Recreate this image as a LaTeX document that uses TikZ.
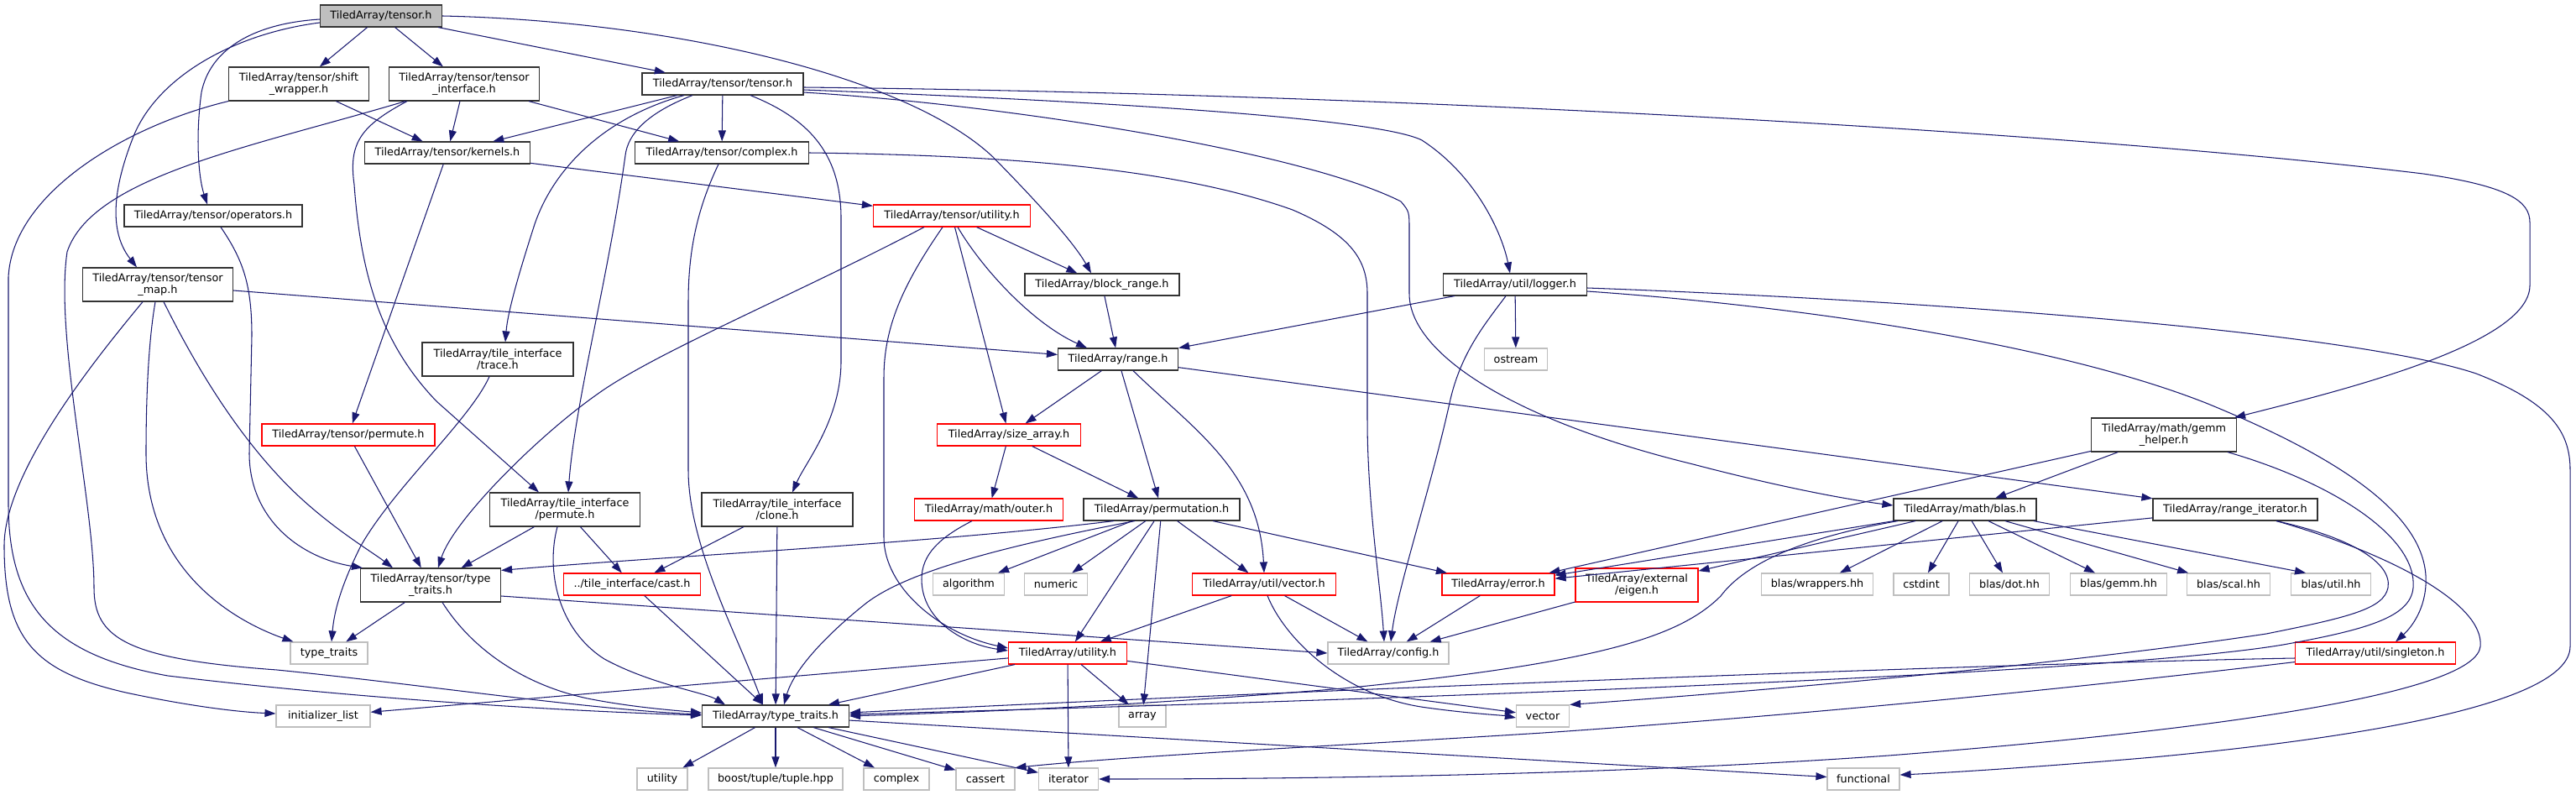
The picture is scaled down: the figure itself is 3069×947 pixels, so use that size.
\documentclass[tikz,border=0pt]{standalone}
\usepackage{fontspec}
\setmainfont{DejaVu Sans}
\usetikzlibrary{arrows.meta}
\definecolor{edgec}{HTML}{191970}
\definecolor{greyb}{HTML}{BFBFBF}
\definecolor{redb}{HTML}{FF0000}
\definecolor{boxb}{HTML}{333333}
\tikzset{
 nd/.style={draw=boxb, line width=1.15pt, fill=white, inner sep=0pt, minimum height=26pt, align=center, font=\fontsize{12.8}{14}\selectfont},
 two/.style={minimum height=40pt},
 sys/.style={draw=greyb},
 trunc/.style={draw=redb},
 edg/.style={draw=edgec, line width=1.05pt, -{Triangle[length=13pt,width=9pt]}},
}
\begin{document}
\begin{tikzpicture}[x=1pt,y=-1pt]
\fill[white] (0,0) rectangle (3069,947);
\useasboundingbox (0,0) rectangle (3069,947);
% nodes
\node[nd,fill=greyb,minimum width=145pt] (root) at (454,19) {TiledArray/tensor.h};
\node[nd,two,minimum width=167pt] (shw) at (356,100) {TiledArray/tensor/shift\\\_wrapper.h};
\node[nd,two,minimum width=179pt] (tif) at (553,100) {TiledArray/tensor/tensor\\\_interface.h};
\node[nd,minimum width=192pt] (tt) at (861,100) {TiledArray/tensor/tensor.h};
\node[nd,minimum width=197pt] (ker) at (533,182) {TiledArray/tensor/kernels.h};
\node[nd,minimum width=207pt] (cpx) at (860,182) {TiledArray/tensor/complex.h};
\node[nd,minimum width=212pt] (ops) at (254,257) {TiledArray/tensor/operators.h};
\node[nd,trunc,minimum width=187pt] (tut) at (1134,257) {TiledArray/tensor/utility.h};
\node[nd,two,minimum width=179pt] (tmap) at (188,339) {TiledArray/tensor/tensor\\\_map.h};
\node[nd,minimum width=184pt] (brg) at (1313,339) {TiledArray/block\_range.h};
\node[nd,minimum width=171pt] (log) at (1805,339) {TiledArray/util/logger.h};
\node[nd,two,minimum width=180pt] (trc) at (593,428) {TiledArray/tile\_interface\\/trace.h};
\node[nd,minimum width=143pt] (rng) at (1332,428) {TiledArray/range.h};
\node[nd,sys,minimum width=75pt] (ost) at (1806,428) {ostream};
\node[nd,trunc,minimum width=206pt] (tperm) at (415,518) {TiledArray/tensor/permute.h};
\node[nd,trunc,minimum width=171pt] (sza) at (1202,518) {TiledArray/size\_array.h};
\node[nd,two,minimum width=173pt] (gemm) at (2578,518) {TiledArray/math/gemm\\\_helper.h};
\node[nd,two,minimum width=179pt] (tip) at (673,607) {TiledArray/tile\_interface\\/permute.h};
\node[nd,two,minimum width=180pt] (cln) at (926,607) {TiledArray/tile\_interface\\/clone.h};
\node[nd,trunc,minimum width=177pt] (out) at (1178,607) {TiledArray/math/outer.h};
\node[nd,minimum width=186pt] (perm) at (1384,607) {TiledArray/permutation.h};
\node[nd,minimum width=170pt] (blas) at (2341,607) {TiledArray/math/blas.h};
\node[nd,minimum width=196pt] (rit) at (2663,607) {TiledArray/range\_iterator.h};
\node[nd,two,minimum width=167pt] (ttr) at (513,697) {TiledArray/tensor/type\\\_traits.h};
\node[nd,trunc,minimum width=163pt] (cast) at (753,696) {../tile\_interface/cast.h};
\node[nd,sys,minimum width=85pt] (alg) at (1154,696) {algorithm};
\node[nd,sys,minimum width=75pt] (num) at (1258,696) {numeric};
\node[nd,trunc,minimum width=171pt] (vec) at (1506,696) {TiledArray/util/vector.h};
\node[nd,trunc,minimum width=134pt] (err) at (1785,696) {TiledArray/error.h};
\node[nd,trunc,two,minimum width=146pt] (eig) at (1950,697) {TiledArray/external\\/eigen.h};
\node[nd,sys,minimum width=133pt] (bwr) at (2165,696) {blas/wrappers.hh};
\node[nd,sys,minimum width=66pt] (cstd) at (2289,696) {cstdint};
\node[nd,sys,minimum width=95pt] (bdot) at (2394,696) {blas/dot.hh};
\node[nd,sys,minimum width=115pt] (bgemm) at (2524,696) {blas/gemm.hh};
\node[nd,sys,minimum width=99pt] (bscal) at (2655,696) {blas/scal.hh};
\node[nd,sys,minimum width=95pt] (butil) at (2777,696) {blas/util.hh};
\node[nd,sys,minimum width=92pt] (stt) at (392,778) {type\_traits};
\node[nd,sys,minimum width=144pt] (cfg) at (1654,778) {TiledArray/config.h};
\node[nd,trunc,minimum width=141pt] (util) at (1272,778) {TiledArray/utility.h};
\node[nd,trunc,minimum width=191pt] (sing) at (2830,778) {TiledArray/util/singleton.h};
\node[nd,sys,minimum width=112pt] (init) at (385,853) {initializer\_list};
\node[nd,minimum width=175pt] (tatt) at (924,853) {TiledArray/type\_traits.h};
\node[nd,sys,minimum width=56pt] (arr) at (1361,853) {array};
\node[nd,sys,minimum width=63pt] (vector) at (1838,853) {vector};
\node[nd,sys,minimum width=60pt] (utl) at (789,928) {utility};
\node[nd,sys,minimum width=160pt] (boost) at (924,928) {boost/tuple/tuple.hpp};
\node[nd,sys,minimum width=78pt] (cplx) at (1068,928) {complex};
\node[nd,sys,minimum width=70pt] (cas) at (1174,928) {cassert};
\node[nd,sys,minimum width=71pt] (iter) at (1273,928) {iterator};
\node[nd,sys,minimum width=86pt] (fun) at (2220,928) {functional};
% root
\draw[edg] (root) -- (shw);
\draw[edg] (root) -- (tif);
\draw[edg] (root) -- (tt);
\draw[edg] ([yshift=-4pt]root.west) .. controls (300,28) and (250,60) .. (240,110) .. controls (233,160) and (236,210) .. ([xshift=-7pt]ops.north);
\draw[edg] ([yshift=-8pt]root.west) .. controls (280,40) and (190,90) .. (160,160) .. controls (140,210) and (125,270) .. ([xshift=-25pt]tmap.north);
\draw[edg] (root.east) .. controls (800,25) and (1080,90) .. (1183,187) .. controls (1240,245) and (1280,290) .. ([xshift=-13pt]brg.north);
% shift wrapper
\draw[edg] (shw) -- (ker);
\draw[edg] (shw.south west) .. controls (150,150) and (15,230) .. (10,330) -- (10,600) .. controls (10,720) and (60,780) .. (200,805) .. controls (450,835) and (700,848) .. ([yshift=1pt]tatt.west);
% tensor interface
\draw[edg] (tif) -- (ker);
\draw[edg] (tif) -- (cpx);
\draw[edg] ([xshift=-70pt]tif.south) .. controls (300,175) and (110,210) .. (80,300) .. controls (65,400) and (112,600) .. (112,700) .. controls (112,760) and (150,785) .. (330,798) .. controls (500,815) and (700,845) .. ([yshift=2pt]tatt.west);
\draw[edg] ([xshift=-68pt]tif.south) .. controls (430,150) and (415,170) .. (422,220) .. controls (430,330) and (455,410) .. (520,478) -- ([xshift=-31pt]tip.north);
% tensor/tensor.h
\draw[edg] (tt) -- (ker);
\draw[edg] (tt) -- (cpx);
\draw[edg] ([xshift=-46pt]tt.south) .. controls (720,140) and (660,200) .. (637,267) .. controls (620,320) and (605,370) .. ([xshift=9pt]trc.north);
\draw[edg] ([xshift=-36pt]tt.south) .. controls (770,135) and (748,160) .. (745,185) .. controls (725,330) and (685,480) .. ([xshift=4pt]tip.north);
\draw[edg] ([xshift=33pt]tt.south) .. controls (960,140) and (1002,180) .. (1002,260) -- (1002,430) .. controls (1002,500) and (960,550) .. ([xshift=18pt]cln.north);
\draw[edg] ([yshift=-7pt]tt.east) .. controls (1300,120) and (1640,140) .. (1694,167) .. controls (1760,210) and (1790,280) .. ([xshift=-6pt]log.north);
\draw[edg] ([yshift=-4pt]tt.east) .. controls (1700,112) and (2500,160) .. (2887,207) .. controls (2990,222) and (3014,240) .. (3014,265) -- (3014,340) .. controls (3014,410) and (2790,465) .. ([xshift=-3pt]gemm.north east);
\draw[edg] ([yshift=-10pt]tt.east) .. controls (1200,125) and (1550,180) .. (1669,240) .. controls (1679,252) .. (1679,275) -- (1679,350) .. controls (1679,420) and (1800,500) .. (2017,553) .. controls (2120,580) and (2200,595) .. ([yshift=5pt]blas.west);
% kernels, complex, operators
\draw[edg] (ker) -- (tut);
\draw[edg] (ker) -- (tperm);
\draw[edg] ([xshift=-4pt]cpx.south) .. controls (830,250) and (820,300) .. (820,360) -- (820,560) .. controls (820,650) and (880,760) .. ([xshift=-15pt]tatt.north);
\draw[edg] (cpx.east) .. controls (1200,185) and (1400,200) .. (1540,250) .. controls (1610,280) and (1629,310) .. (1629,350) -- (1629,500) .. controls (1629,600) and (1645,700) .. ([xshift=-5pt]cfg.north);
\draw[edg] ([xshift=9pt]ops.south) .. controls (290,310) and (300,340) .. (300,400) -- (297,540) .. controls (297,620) and (360,665) .. ([xshift=3pt]ttr.north west);
% tensor map
\draw[edg] ([xshift=-18pt]tmap.south) .. controls (120,420) and (5,560) .. (5,650) .. controls (5,760) and (40,800) .. (150,825) .. controls (220,840) and (280,848) .. ([yshift=3pt]init.west);
\draw[edg] ([xshift=-3pt]tmap.south) .. controls (178,400) and (174,460) .. (174,540) .. controls (174,680) and (280,740) .. ([xshift=4pt]stt.north west);
\draw[edg] ([xshift=7pt]tmap.south) .. controls (225,420) and (270,500) .. (330,565) .. controls (380,620) and (440,655) .. ([xshift=-45pt]ttr.north);
\draw[edg] (tmap) -- (rng);
% tensor utility
\draw[edg] (tut) -- (brg);
\draw[edg] ([xshift=7pt]tut.south) .. controls (1170,320) and (1230,385) .. ([xshift=-37pt]rng.north);
\draw[edg] (tut) -- (sza);
\draw[edg] ([xshift=-11pt]tut.south) .. controls (1075,340) and (1053,390) .. (1053,450) -- (1053,640) .. controls (1053,700) and (1120,755) .. ([yshift=6pt]util.west);
\draw[edg] ([xshift=-33pt]tut.south) .. controls (950,350) and (780,420) .. (711,470) .. controls (640,520) and (540,620) .. ([xshift=9pt]ttr.north);
\draw[edg] (brg) -- (rng);
% logger
\draw[edg] (log) -- (rng);
\draw[edg] (log) -- (ost);
\draw[edg] ([xshift=-11pt]log.south) .. controls (1770,385) and (1740,420) .. (1727,480) .. controls (1705,580) and (1665,700) .. ([xshift=3pt]cfg.north);
\draw[edg] ([yshift=-8pt]log.east) .. controls (2150,365) and (2450,410) .. (2628,480) .. controls (2800,550) and (2895,620) .. (2890,697) .. controls (2888,730) and (2870,750) .. ([xshift=24pt]sing.north);
\draw[edg] ([yshift=-4pt]log.east) .. controls (2300,358) and (2800,395) .. (2950,445) .. controls (3040,480) and (3062,515) .. (3062,560) -- (3062,770) .. controls (3062,840) and (2800,880) .. (2565,902) .. controls (2450,912) and (2330,920) .. ([yshift=5pt]fun.east);
% trace, range
\draw[edg] ([xshift=-10pt]trc.south) .. controls (560,500) and (470,580) .. (430,650) .. controls (405,700) and (398,730) .. ([xshift=3pt]stt.north);
\draw[edg] (rng) -- (sza);
\draw[edg] (rng) -- (perm);
\draw[edg] ([xshift=18pt]rng.south) .. controls (1420,510) and (1500,560) .. (vec.north);
\draw[edg] (rng) -- (rit);
\draw[edg] (tperm) -- (ttr);
\draw[edg] (sza) -- (out);
\draw[edg] (sza) -- (perm);
% gemm helper
\draw[edg] (gemm) -- (blas);
\draw[edg] (gemm) -- (err);
\draw[edg] ([xshift=76pt]gemm.south) .. controls (2780,575) and (2880,640) .. (2875,700) .. controls (2872,735) and (2820,750) .. (2720,768) .. controls (2500,805) and (1600,835) .. ([yshift=2pt]tatt.east);
% range iterator
\draw[edg] (rit) -- (err);
\draw[edg] ([xshift=49pt]rit.south) .. controls (2800,640) and (2850,670) .. (2845,700) .. controls (2840,725) and (2800,735) .. (2700,755) .. controls (2400,800) and (2000,830) .. (vector.north east);
\draw[edg] ([xshift=49pt]rit.south) .. controls (2850,660) and (2960,720) .. (2955,770) .. controls (2950,820) and (2700,865) .. (2250,900) .. controls (1900,925) and (1500,928) .. (iter.east);
% blas
\draw[edg] (blas) -- (err);
\draw[edg] (blas) -- (eig);
\draw[edg] (blas) -- (bwr);
\draw[edg] (blas) -- (cstd);
\draw[edg] (blas) -- (bdot);
\draw[edg] (blas) -- (bgemm);
\draw[edg] (blas) -- (bscal);
\draw[edg] ([xshift=82pt]blas.south) -- ([xshift=-30pt]butil.north);
\draw[edg] ([xshift=-80pt]blas.south) .. controls (2150,640) and (2080,670) .. (2050,710) .. controls (2000,760) and (1900,790) .. (1600,820) .. controls (1300,845) and (1100,850) .. (tatt.east);
% tile interface
\draw[edg] (tip) -- (ttr);
\draw[edg] (tip) -- (cast);
\draw[edg] ([xshift=-9pt]tip.south) .. controls (650,680) and (665,750) .. (720,785) .. controls (775,815) and (840,825) .. ([xshift=-60pt]tatt.north);
\draw[edg] (cln) -- (cast);
\draw[edg] (cln) -- (tatt);
\draw[edg] ([xshift=-20pt]out.south) .. controls (1120,640) and (1098,660) .. (1098,690) .. controls (1098,740) and (1150,768) .. ([yshift=3pt]util.west);
% permutation
\draw[edg] ([xshift=-57pt]perm.south) .. controls (1100,648) and (800,662) .. ([yshift=-3pt]ttr.north east);
\draw[edg] ([xshift=-32pt]perm.south) .. controls (1200,650) and (1080,680) .. (1030,720) .. controls (980,760) and (945,800) .. ([xshift=10pt]tatt.north);
\draw[edg] (perm) -- (alg);
\draw[edg] (perm) -- (num);
\draw[edg] (perm) -- (util);
\draw[edg] (perm) -- (arr);
\draw[edg] (perm) -- (vec);
\draw[edg] (perm) -- (err);
% vector.h, error, eigen
\draw[edg] (vec) -- (util);
\draw[edg] (vec) -- (cfg);
\draw[edg] ([xshift=4pt]vec.south) .. controls (1530,760) and (1600,830) .. (1700,843) .. controls (1750,850) and (1790,852) .. ([yshift=-2pt]vector.west);
\draw[edg] (err) -- (cfg);
\draw[edg] (eig) -- (cfg);
% utility
\draw[edg] (util) -- (tatt);
\draw[edg] (util) -- (arr);
\draw[edg] (util) -- (iter);
\draw[edg] (util) -- (vector);
\draw[edg] (util) -- (init);
% tensor type traits
\draw[edg] (ttr) -- (stt);
\draw[edg] ([xshift=14pt]ttr.south) .. controls (560,770) and (620,815) .. (700,832) .. controls (750,842) and (800,846) .. ([yshift=4pt]tatt.west);
\draw[edg] ([yshift=-13pt]ttr.east) -- (cfg.west);
\draw[edg] (cast) -- (tatt);
% singleton
\draw[edg] ([yshift=-6pt]sing.west) .. controls (2400,790) and (1600,820) .. ([yshift=4pt]tatt.east);
\draw[edg] ([yshift=3pt]sing.south west) .. controls (2400,828) and (2100,855) .. (1838,873) .. controls (1600,888) and (1350,900) .. (cas.north east);
% type traits
\draw[edg] (tatt) -- (utl);
\draw[edg] (tatt) -- (boost);
\draw[edg] (tatt) -- (cplx);
\draw[edg] (tatt) -- (cas);
\draw[edg] (tatt) -- (iter);
\draw[edg] (tatt) -- (fun);
\end{tikzpicture}
\end{document}
